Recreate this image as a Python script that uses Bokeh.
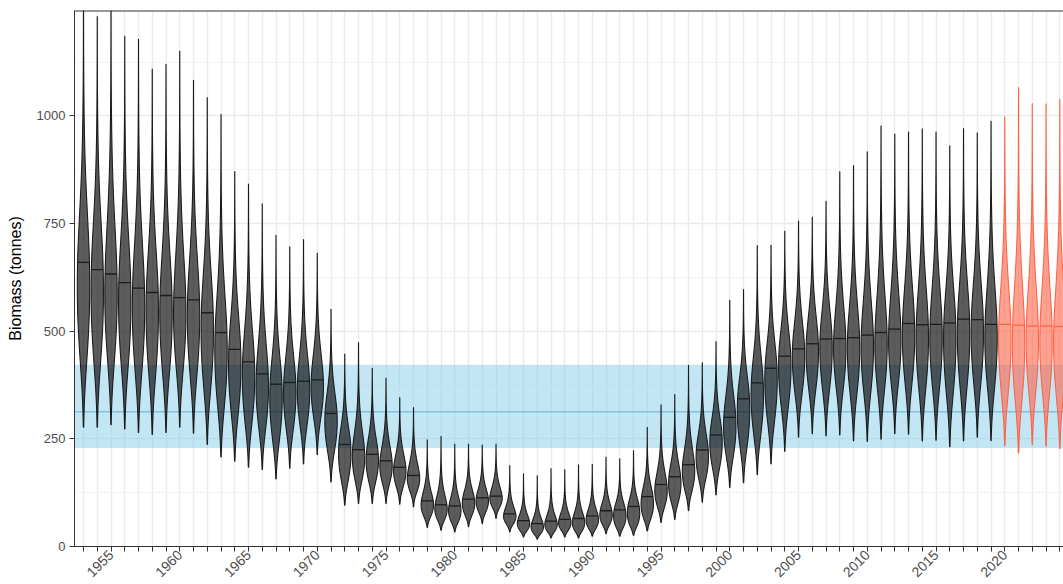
import math
import numpy as np
from bokeh.plotting import figure
from bokeh.models import Range1d, FixedTicker, Span, BoxAnnotation, ColumnDataSource
from bokeh.embed import file_html
from bokeh.resources import INLINE

# ---------------- data ----------------
years = list(range(1953, 2025))
medians = [660, 643, 633, 613, 600, 590, 583, 578, 573, 543,
           497, 458, 429, 401, 377, 381, 384, 387, 309, 237,
           225, 214, 199, 184, 165, 106, 97, 94, 110, 113,
           117, 76, 60, 53, 59, 63, 65, 71, 83, 85,
           93, 116, 144, 162, 190, 224, 259, 300, 343, 380,
           414, 442, 459, 471, 482, 483, 485, 491, 497, 505,
           518, 515, 516, 519, 528, 527, 516, 516, 514, 512,
           512, 511]
lows = [277, 277, 283, 273, 265, 260, 265, 277, 263, 237,
        208, 198, 184, 179, 157, 182, 192, 213, 150, 96,
        100, 100, 100, 98, 92, 44, 38, 34, 46, 53,
        65, 34, 22, 17, 20, 22, 20, 24, 30, 24,
        26, 36, 56, 63, 83, 103, 120, 137, 148, 167,
        192, 221, 254, 262, 257, 259, 245, 244, 249, 262,
        261, 245, 247, 232, 245, 254, 246, 234, 217, 237,
        233, 227]
highs = [1300, 1231, 1280, 1185, 1178, 1109, 1120, 1151, 1083, 1043,
         1004, 871, 842, 796, 723, 696, 713, 681, 551, 447,
         474, 414, 391, 346, 323, 248, 256, 238, 238, 236,
         238, 188, 169, 165, 181, 179, 190, 191, 208, 204,
         223, 277, 329, 353, 421, 427, 476, 572, 597, 699,
         700, 733, 756, 765, 802, 871, 885, 917, 977, 958,
         963, 970, 963, 931, 971, 961, 988, 998, 1066, 1029,
         1028, 1039]
projection_start = 2020
band_low, band_mid, band_high = 229, 313, 422
y_ticks = [0, 250, 500, 750, 1000]
y_minor = [125, 375, 625, 875, 1125]

# ---------------- styling ----------------
FONT = "Liberation Sans"
HIST_FILL, HIST_LINE = "#000000", "#1c1c1c"
PROJ_FILL, PROJ_LINE = "#FF6347", "#FF6347"
HALF_W = 0.45
K_LO, K_HI = 2.9, 3.1

p = figure(width=1063, height=584, output_backend="svg", toolbar_location=None,
           x_range=Range1d(1952.345, 2024.27), y_range=Range1d(0, 1245),
           min_border_left=74, min_border_right=0, min_border_top=10,
           min_border_bottom=36)
p.outline_line_color = None
p.background_fill_color = "white"
p.border_fill_color = "white"

# grids
p.xgrid.ticker = FixedTicker(ticks=years)
p.xgrid.grid_line_color = "#ebebeb"
p.xgrid.grid_line_width = 1.5
p.ygrid.ticker = FixedTicker(ticks=y_ticks, minor_ticks=y_minor)
p.ygrid.grid_line_color = "#ebebeb"
p.ygrid.grid_line_width = 1.5
p.ygrid.minor_grid_line_color = "#f3f3f3"
p.ygrid.minor_grid_line_width = 1

# reference band
band = BoxAnnotation(bottom=band_low, top=band_high, fill_color="skyblue",
                     fill_alpha=0.5, line_color=None, level="underlay")
p.add_layout(band)
p.add_layout(Span(location=band_mid, dimension="width", line_color="#7fc3e2",
                  line_width=1.6, level="underlay"))

# violins
xs, ys, fills, lines, alphas = [], [], [], [], []
mx0, mx1, my, mcol = [], [], [], []
for yr, m, lo, hi in zip(years, medians, lows, highs):
    s_lo = math.log(m / lo) / K_LO
    s_hi = math.log(hi / m) / K_HI
    grid = np.geomspace(lo, hi, 400)
    s = np.where(grid < m, s_lo, s_hi)
    dens = np.exp(-(np.log(grid / m)) ** 2 / (2 * s ** 2)) / grid
    dmax = dens.max()
    hw = HALF_W * dens / dmax
    px = np.concatenate([yr + hw, (yr - hw)[::-1]])
    py = np.concatenate([grid, grid[::-1]])
    xs.append(px.tolist())
    ys.append(py.tolist())
    proj = yr >= projection_start
    fills.append(PROJ_FILL if proj else HIST_FILL)
    lines.append(PROJ_LINE if proj else HIST_LINE)
    alphas.append(0.6 if proj else 0.64)
    hm = HALF_W * (1.0 / m) / dmax
    mx0.append(yr - hm)
    mx1.append(yr + hm)
    my.append(m)
    mcol.append(PROJ_LINE if proj else HIST_LINE)

vsrc = ColumnDataSource(dict(xs=xs, ys=ys, fill=fills, line=lines, alpha=alphas))
p.patches("xs", "ys", source=vsrc, fill_color="fill", fill_alpha="alpha",
          line_color="line", line_width=1.1)
msrc = ColumnDataSource(dict(x0=mx0, x1=mx1, y=my, c=mcol))
p.segment("x0", "y", "x1", "y", source=msrc, line_color="c", line_width=1.3)

# top border of panel
p.add_layout(Span(location=1245, dimension="width", line_color="#333333", line_width=2))

# axes
xa = p.xaxis[0]
xa.ticker = FixedTicker(ticks=years)
xa.major_label_overrides = {yr: (str(yr) if yr % 5 == 0 else "") for yr in years}
xa.major_label_orientation = math.pi / 4
xa.major_label_text_font = FONT
xa.major_label_text_font_size = "14px"
xa.major_label_text_color = "#4d4d4d"
xa.major_label_standoff = 1
xa.major_tick_out = 5
xa.major_tick_in = 0
xa.minor_tick_line_color = None
xa.axis_line_color = "#333333"
xa.major_tick_line_color = "#333333"

ya = p.yaxis[0]
ya.ticker = FixedTicker(ticks=y_ticks)
ya.axis_label = "Biomass (tonnes)"
ya.axis_label_text_font = FONT
ya.axis_label_text_font_size = "16px"
ya.axis_label_text_font_style = "normal"
ya.axis_label_text_color = "#000000"
ya.axis_label_standoff = 10
ya.major_label_text_font = FONT
ya.major_label_text_font_size = "13px"
ya.major_label_text_color = "#4d4d4d"
ya.major_label_standoff = 4
ya.major_tick_out = 5
ya.major_tick_in = 0
ya.minor_tick_line_color = None
ya.axis_line_color = "#333333"
ya.major_tick_line_color = "#333333"

open("out.html", "w").write(file_html(p, INLINE))
